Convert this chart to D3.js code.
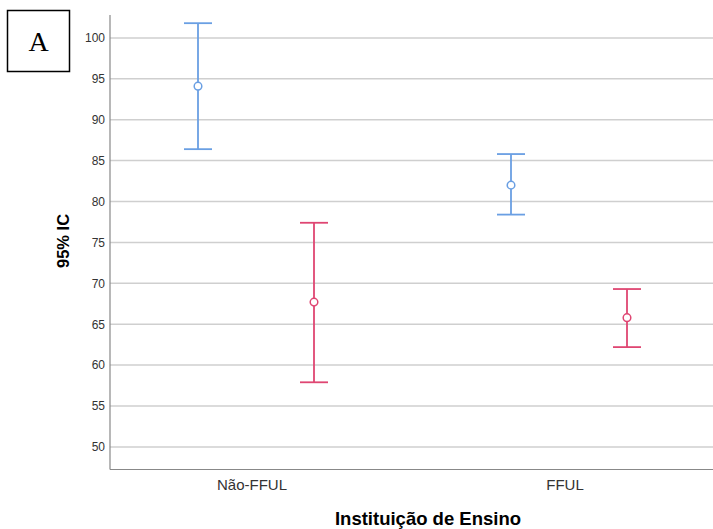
<!DOCTYPE html>
<html>
<head>
<meta charset="utf-8">
<script src="https://cdn.jsdelivr.net/npm/d3@7"></script>
<style>
  body { margin: 0; background: #fff; }
  text { font-family: "Liberation Sans", Arial, sans-serif; }
</style>
</head>
<body>
<svg id="chart"></svg>
<script>
var categories = ["Não-FFUL", "FFUL"];
var series = ["blue", "red"];
var means = [[94.1, 67.7], [82.0, 65.8]];
var lower = [[86.4, 57.9], [78.4, 62.2]];
var upper = [[101.8, 77.4], [85.8, 69.3]];
var yTicks = [50, 55, 60, 65, 70, 75, 80, 85, 90, 95, 100];

var width = 713, height = 529;
var colors = {blue: "#6a9fe3", red: "#df4672"};

var svg = d3.select("#chart")
    .attr("width", width)
    .attr("height", height);

var y = d3.scaleLinear()
    .domain([47.3, 102.8])
    .range([469, 15]);

var x = d3.scaleBand()
    .domain(categories)
    .range([99.5, 725.5]);

var xs = d3.scalePoint()
    .domain(series)
    .range([-58, 58]);

// grid lines
svg.append("g")
    .selectAll("line")
    .data(yTicks)
    .enter()
    .append("line")
    .attr("x1", 110)
    .attr("x2", width)
    .attr("y1", function (d) { return y(d); })
    .attr("y2", function (d) { return y(d); })
    .attr("stroke", "#cfcfcf")
    .attr("stroke-width", 1.5);

var yAxis = d3.axisLeft(y)
    .tickValues(yTicks)
    .tickSize(0)
    .tickPadding(5);
var gy = svg.append("g")
    .attr("transform", "translate(110,0)")
    .call(yAxis);
gy.select(".domain").remove();
gy.selectAll("text")
    .style("font-size", "12px")
    .attr("fill", "#333");

// axis lines
svg.append("line")
    .attr("x1", 110).attr("x2", 110)
    .attr("y1", 15).attr("y2", 469.5)
    .attr("stroke", "#888").attr("stroke-width", 1.2);
svg.append("line")
    .attr("x1", 110).attr("x2", width)
    .attr("y1", 469.5).attr("y2", 469.5)
    .attr("stroke", "#888").attr("stroke-width", 1.2);

var xAxis = d3.axisBottom(x)
    .tickSize(0)
    .tickPadding(10);
var gx = svg.append("g")
    .attr("transform", "translate(0,469.5)")
    .call(xAxis);
gx.select(".domain").remove();
gx.selectAll("text")
    .attr("dx", -4)
    .style("font-size", "15px")
    .attr("fill", "#333");

// error bars
var points = [];
categories.forEach(function (c, i) {
    series.forEach(function (s, j) {
        points.push({cat: c, s: s, m: means[i][j], lo: lower[i][j], hi: upper[i][j]});
    });
});

var bars = svg.append("g")
    .selectAll("g")
    .data(points)
    .enter()
    .append("g")
    .attr("transform", function (d) {
        return "translate(" + (x(d.cat) + x.bandwidth() / 2 + xs(d.s)) + ",0)";
    })
    .attr("stroke", function (d) { return colors[d.s]; })
    .attr("fill", "none")
    .attr("stroke-width", 1.8);

bars.append("line")
    .attr("y1", function (d) { return y(d.lo); })
    .attr("y2", function (d) { return y(d.hi); });
bars.append("line")
    .attr("x1", -14).attr("x2", 14)
    .attr("y1", function (d) { return y(d.hi); })
    .attr("y2", function (d) { return y(d.hi); });
bars.append("line")
    .attr("x1", -14).attr("x2", 14)
    .attr("y1", function (d) { return y(d.lo); })
    .attr("y2", function (d) { return y(d.lo); });
bars.append("circle")
    .attr("cy", function (d) { return y(d.m); })
    .attr("r", 3.8)
    .attr("fill", "#fff")
    .attr("stroke-width", 1.5);

// titles
svg.append("text")
    .attr("transform", "translate(69,241)rotate(-90)")
    .attr("text-anchor", "middle")
    .style("font-size", "16.5px")
    .style("font-weight", "bold")
    .text("95% IC");

svg.append("text")
    .attr("x", 428)
    .attr("y", 525)
    .attr("text-anchor", "middle")
    .style("font-size", "18.5px")
    .style("font-weight", "bold")
    .text("Instituição de Ensino");

// panel label
svg.append("rect")
    .attr("x", 7.5).attr("y", 10.5)
    .attr("width", 62).attr("height", 61)
    .attr("fill", "none")
    .attr("stroke", "#000")
    .attr("stroke-width", 1.5);
svg.append("text")
    .attr("x", 38.5).attr("y", 51)
    .attr("text-anchor", "middle")
    .style("font-family", "'Liberation Serif', 'Times New Roman', serif")
    .style("font-size", "28px")
    .text("A");
</script>
</body>
</html>
